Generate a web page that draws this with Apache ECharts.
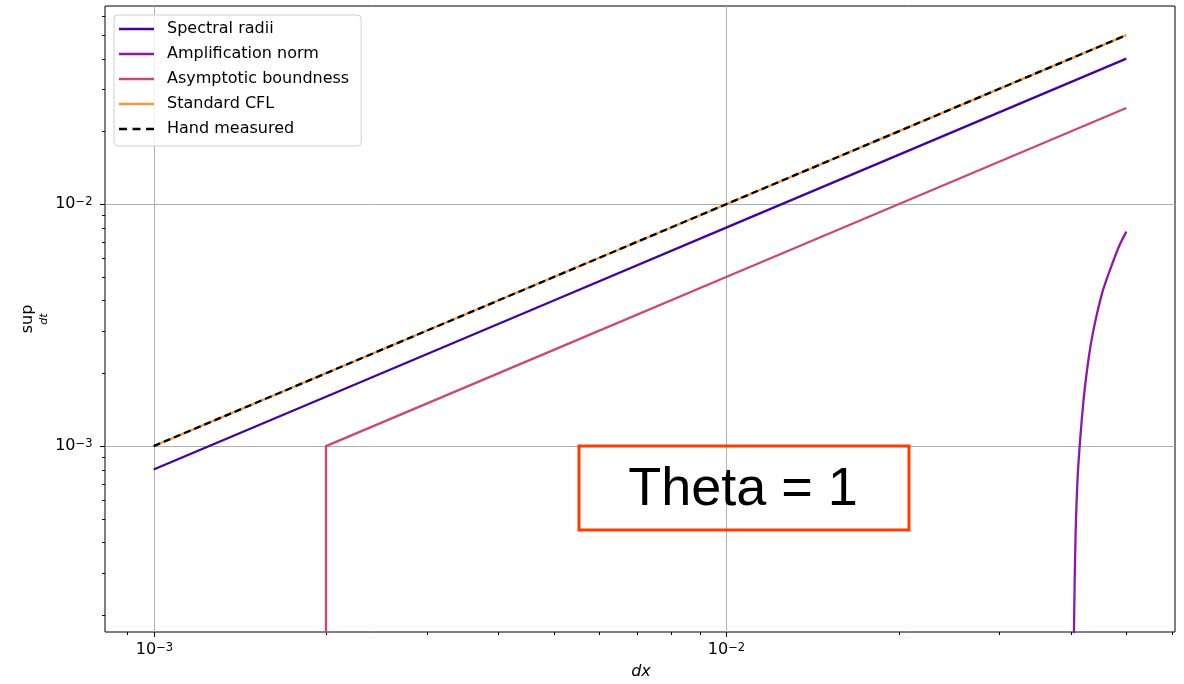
<!DOCTYPE html>
<html><head><meta charset="utf-8">
<script src="https://cdn.jsdelivr.net/npm/echarts@6/dist/echarts.min.js"></script>
<style>html,body{margin:0;padding:0;background:#fff}#c{width:1184px;height:684px}</style>
</head><body><div id="c"></div>
<script>
// ---- data ----
const dx = [0.001, 0.002, 0.005, 0.01, 0.02, 0.05];
const spectralRadii = [0.0008, 0.0016, 0.004, 0.008, 0.016, 0.04];
const standardCFL = [0.001, 0.002, 0.005, 0.01, 0.02, 0.05];
const handMeasured = [0.001, 0.002, 0.005, 0.01, 0.02, 0.05];
const dxAsymptotic = [0.002, 0.002, 0.005, 0.01, 0.02, 0.05];
const asymptoticBoundness = [0.00001, 0.001, 0.0025, 0.005, 0.01, 0.025];
const dxAmplification = [0.04045, 0.0405, 0.04062, 0.04077, 0.04105, 0.04143, 0.04215, 0.0430, 0.0437, 0.04446, 0.0455, 0.0466, 0.04851, 0.0500];
const amplificationNorm = [0.00010, 0.00017, 0.00028, 0.000437, 0.00070, 0.000993, 0.00160, 0.00234, 0.00293, 0.00355, 0.00440, 0.00519, 0.00667, 0.00770];
const seriesNames = ['Spectral radii', 'Amplification norm', 'Asymptotic boundness', 'Standard CFL', 'Hand measured'];
const xMajorTicks = [0.001, 0.01];
const xTickExponents = ['\u22123', '\u22122'];
const xMinorTicks = [0.0009, 0.002, 0.003, 0.004, 0.005, 0.006, 0.007, 0.008, 0.009, 0.02, 0.03, 0.04, 0.05, 0.06];
const yMajorTicks = [0.001, 0.01];
const yTickExponents = ['\u22123', '\u22122'];
const yMinorTicks = [0.0002, 0.0003, 0.0004, 0.0005, 0.0006, 0.0007, 0.0008, 0.0009,
  0.002, 0.003, 0.004, 0.005, 0.006, 0.007, 0.008, 0.009, 0.02, 0.03, 0.04, 0.05, 0.06];
const X_MIN = Math.pow(10, -3.08495), X_MAX = Math.pow(10, -1.21608);
const Y_MIN = Math.pow(10, -3.7686), Y_MAX = Math.pow(10, -1.1806);

const colors = ['#41049d', '#8f17a9', '#cc4778', '#f89540', '#000000'];
const FONT = 'DejaVu Sans';
const LW = 2.3;

const zip = (xs, ys) => xs.map((x, i) => [x, ys[i]]);

const decor = [];
xMajorTicks.forEach((v, i) => decor.push({axis: 'x', v, major: true, exp: xTickExponents[i]}));
xMinorTicks.forEach(v => decor.push({axis: 'x', v, major: false}));
yMajorTicks.forEach((v, i) => decor.push({axis: 'y', v, major: true, exp: yTickExponents[i]}));
yMinorTicks.forEach(v => decor.push({axis: 'y', v, major: false}));

const rich = {
  a: {fontSize: 16, lineHeight: 20, verticalAlign: 'top', fontFamily: FONT, fill: '#000'},
  b: {fontSize: 11.5, lineHeight: 12, verticalAlign: 'top', fontFamily: FONT, fill: '#000'}
};

function renderDecor(params, api) {
  const d = decor[params.dataIndex];
  const cs = params.coordSys;
  const left = cs.x, top = cs.y, right = cs.x + cs.width, bottom = cs.y + cs.height;
  const pt = api.coord([api.value(0), api.value(1)]);
  const ch = [];
  if (d.axis === 'x') {
    const x = Math.round(pt[0]) + 0.5;
    if (d.major) {
      ch.push({type: 'line', shape: {x1: x, y1: top, x2: x, y2: bottom}, style: {stroke: '#b0b0b0', lineWidth: 1}});
      ch.push({type: 'text', x: x, y: bottom + 10, style: {text: '{a|10}{b|' + d.exp + '}', rich: rich, align: 'center', verticalAlign: 'top'}});
    }
    ch.push({type: 'line', shape: {x1: x, y1: bottom, x2: x, y2: bottom + (d.major ? 5 : 3)}, style: {stroke: '#000', lineWidth: 1}});
  } else {
    const y = Math.round(pt[1]) + 0.5;
    if (d.major) {
      ch.push({type: 'line', shape: {x1: left, y1: y, x2: right, y2: y}, style: {stroke: '#b0b0b0', lineWidth: 1}});
      ch.push({type: 'text', x: left - 12.5, y: y - 8.5, style: {text: '{a|10}{b|' + d.exp + '}', rich: rich, align: 'right', verticalAlign: 'top'}});
    }
    ch.push({type: 'line', shape: {x1: left, y1: y, x2: left - (d.major ? 5 : 3), y2: y}, style: {stroke: '#000', lineWidth: 1}});
  }
  return {type: 'group', children: ch};
}

const lineSeries = (name, data, color, extra) => Object.assign({
  name, type: 'line', data, showSymbol: false, symbol: 'none', clip: true, z: 3,
  lineStyle: {color, width: LW}, itemStyle: {color}, emphasis: {disabled: true}
}, extra || {});

const solidIcon = 'path://M0,0h35v2.3h-35z';
const dashedIcon = 'path://M0,0h8v2.3h-8z M13.5,0h8v2.3h-8z M27,0h8v2.3h-8z';

const chart = echarts.init(document.getElementById('c'));
chart.setOption({
  animation: false,
  backgroundColor: '#fff',
  textStyle: {fontFamily: FONT},
  grid: {left: 105, right: 9, top: 6, bottom: 52, show: true, borderColor: '#000', borderWidth: 1, backgroundColor: 'transparent'},
  xAxis: {type: 'log', logBase: 10, min: X_MIN, max: X_MAX,
    axisLine: {show: false}, axisTick: {show: false}, axisLabel: {show: false}, splitLine: {show: false}},
  yAxis: {type: 'log', logBase: 10, min: Y_MIN, max: Y_MAX,
    axisLine: {show: false}, axisTick: {show: false}, axisLabel: {show: false}, splitLine: {show: false}},
  legend: {
    data: seriesNames.map((n, i) => ({name: n, icon: i === 4 ? dashedIcon : solidIcon})),
    orient: 'vertical', left: 114, top: 15,
    padding: [6, 12, 9, 5], itemGap: 9, itemWidth: 35, itemHeight: 2.3,
    backgroundColor: 'rgba(255,255,255,0.85)', borderColor: '#d0d0d0', borderWidth: 1, borderRadius: 4,
    textStyle: {fontSize: 16, lineHeight: 16, color: '#000', fontFamily: FONT, padding: [0, 0, 0, 8]},
    selectedMode: false, z: 10
  },
  series: [
    {type: 'custom', coordinateSystem: 'cartesian2d', clip: false, z: 1, silent: true,
      renderItem: renderDecor, data: decor.map(d => d.axis === 'x' ? [d.v, Y_MIN] : [X_MIN, d.v])},
    lineSeries(seriesNames[0], zip(dx, spectralRadii), colors[0]),
    lineSeries(seriesNames[1], zip(dxAmplification, amplificationNorm), colors[1], {smooth: 0.25}),
    lineSeries(seriesNames[2], zip(dxAsymptotic, asymptoticBoundness), colors[2]),
    lineSeries(seriesNames[3], zip(dx, standardCFL), colors[3]),
    lineSeries(seriesNames[4], zip(dx, handMeasured), colors[4], {lineStyle: {color: '#000', width: LW, type: [7, 4]}})
  ],
  graphic: [
    {type: 'text', x: 28, y: 319, rotation: Math.PI / 2, style: {text: 'sup', fontSize: 16, fontFamily: FONT, fill: '#000', align: 'center', verticalAlign: 'middle'}},
    {type: 'text', x: 44, y: 319, rotation: Math.PI / 2, style: {text: 'dt', fontSize: 11, fontStyle: 'italic', fontFamily: FONT, fill: '#000', align: 'center', verticalAlign: 'middle'}},
    {type: 'text', x: 641, y: 672, style: {text: 'dx', fontSize: 16, fontStyle: 'italic', fontFamily: FONT, fill: '#000', align: 'center', verticalAlign: 'middle'}},
    {type: 'rect', z: 20, shape: {x: 579, y: 446, width: 330, height: 84}, style: {fill: 'none', stroke: '#ff3d00', lineWidth: 3}},
    {type: 'text', z: 20, x: 743, y: 490, style: {text: 'Theta = 1', fontSize: 54, fontFamily: 'Liberation Sans', fill: '#000', align: 'center', verticalAlign: 'middle'}}
  ]
});
</script></body></html>
